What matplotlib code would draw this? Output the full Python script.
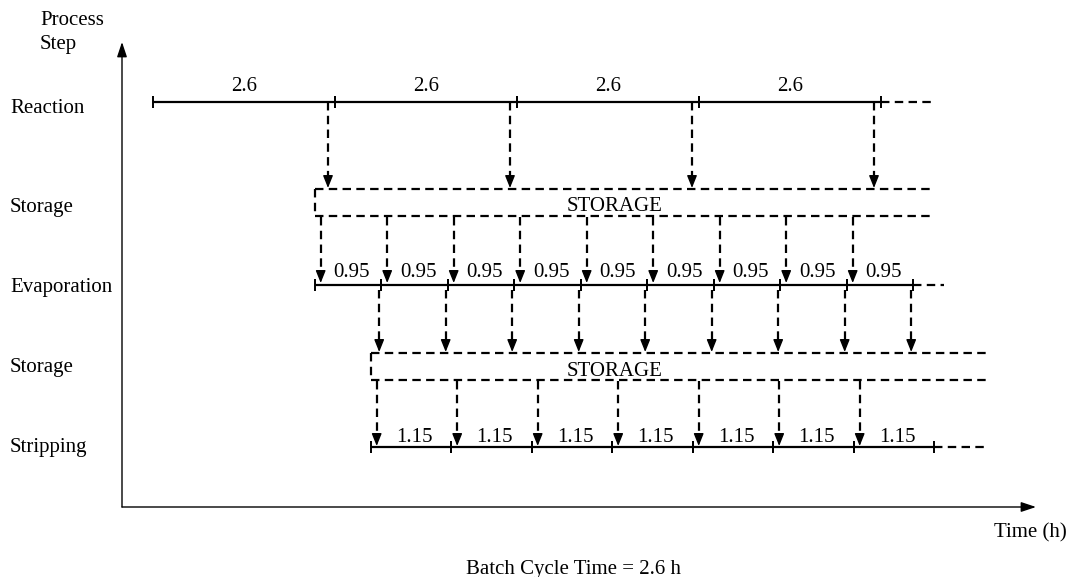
import matplotlib.pyplot as plt

plt.rcParams['font.family'] = ['Liberation Serif', 'DejaVu Serif']

# durations (h) of each batch on each step
reaction_dur = [2.6, 2.6, 2.6, 2.6]
evap_dur = [0.95] * 9
strip_dur = [1.15] * 7

# start times (h) of the first batch on each step and where the dashed tails end
reaction_start = 0.0
evap_start = 2.31
strip_start = 3.11
reaction_tail = 11.15
evap_tail = 11.3
strip_tail = 11.9

row_names = ['Reaction', 'Storage', 'Evaporation', 'Storage', 'Stripping']

# layout (vertical positions in figure pixels, y grows downward)
Y_REACT, Y_EVAP, Y_STRIP = 102, 285, 447
ST1_TOP, ST1_BOT = 189, 216
ST2_TOP, ST2_BOT = 353, 380
row_base = [113, 212, 292, 372, 452]

PX_PER_H = 70.0
X0 = 153
FS = 15
DASH = (3.8, 2.4)

fig = plt.figure(figsize=(10.7, 5.77), dpi=100)
ax = fig.add_axes([0, 0, 1, 1])
ax.set_xlim(-X0 / PX_PER_H, (1070 - X0) / PX_PER_H)
ax.set_ylim(577, 0)
ax.axis('off')

ph = 1.0 / PX_PER_H  # one pixel in hours


def segments(start, durs):
    out = []
    t = start
    for d in durs:
        out.append((t, t + d))
        t += d
    return out


def row(start, durs, y, tail, label_base, label_dx):
    segs = segments(start, durs)
    for s, e in segs:
        ax.plot([s, e], [y, y], color='k', lw=1.6, marker='|', ms=8, mew=1.4,
                solid_capstyle='butt')
        ax.text((s + e) / 2 + label_dx, label_base, f'{durs[0]:g}', fontsize=FS,
                ha='center', va='baseline')
    ax.plot([segs[-1][1], tail], [y, y], color='k', lw=1.6, dashes=DASH)
    return segs


def arrow(x, y0, y1):
    ax.plot([x, x], [y0, y1 - 9], color='k', lw=1.6, dashes=DASH)
    ax.annotate('', xy=(x, y1), xytext=(x, y1 - 11),
                arrowprops=dict(arrowstyle='-|>,head_length=0.75,head_width=0.3',
                                color='k', lw=1.0, shrinkA=0, shrinkB=0))


def storage(x0, x1, top, bot, tx, tbase):
    ax.plot([x0, x1], [top, top], color='k', lw=1.6, dashes=DASH)
    ax.plot([x0, x1], [bot, bot], color='k', lw=1.6, dashes=DASH)
    ax.plot([x0, x0], [top, bot], color='k', lw=1.6, dashes=DASH)
    ax.text(tx, tbase, 'STORAGE', fontsize=FS, ha='center', va='baseline')


r_segs = row(reaction_start, reaction_dur, Y_REACT, reaction_tail, 91, 0)
e_segs = row(evap_start, evap_dur, Y_EVAP, evap_tail, 277, 4 * ph)
s_segs = row(strip_start, strip_dur, Y_STRIP, strip_tail, 442, 3 * ph)

storage(evap_start, reaction_tail, ST1_TOP, ST1_BOT, 6.6, 211)
storage(strip_start, strip_tail, ST2_TOP, ST2_BOT, 6.6, 376)

for s, e in r_segs:
    arrow(e - 7 * ph, Y_REACT, ST1_TOP - 1)
for s, e in e_segs:
    arrow(s + 6 * ph, ST1_BOT + 1, Y_EVAP - 2)
    arrow(e - 2 * ph, Y_EVAP + 5, ST2_TOP - 1)
for s, e in s_segs:
    arrow(s + 6 * ph, ST2_BOT + 1, Y_STRIP - 1)

# axes arrows
xa = (122 - X0) / PX_PER_H
ax.annotate('', xy=(xa, 42), xytext=(xa, 507),
            arrowprops=dict(arrowstyle='-|>,head_length=0.9,head_width=0.3',
                            color='k', lw=1.0, shrinkA=0, shrinkB=0))
ax.annotate('', xy=((1036 - X0) / PX_PER_H, 507), xytext=(xa, 507),
            arrowprops=dict(arrowstyle='-|>,head_length=0.9,head_width=0.3',
                            color='k', lw=1.0, shrinkA=0, shrinkB=0))

# labels
lx = (10 - X0) / PX_PER_H
for name, yb in zip(row_names, row_base):
    ax.text(lx, yb, name, fontsize=FS, ha='left', va='baseline')
ax.text((40 - X0) / PX_PER_H, 25, 'Process', fontsize=FS, ha='left', va='baseline')
ax.text((40 - X0) / PX_PER_H, 49, 'Step', fontsize=FS, ha='left', va='baseline')
ax.text((1067 - X0) / PX_PER_H, 537, 'Time (h)', fontsize=FS, ha='right', va='baseline')
ax.text((573 - X0) / PX_PER_H, 574, 'Batch Cycle Time = 2.6 h', fontsize=FS,
        ha='center', va='baseline')

fig.savefig('out.png', dpi=100)
